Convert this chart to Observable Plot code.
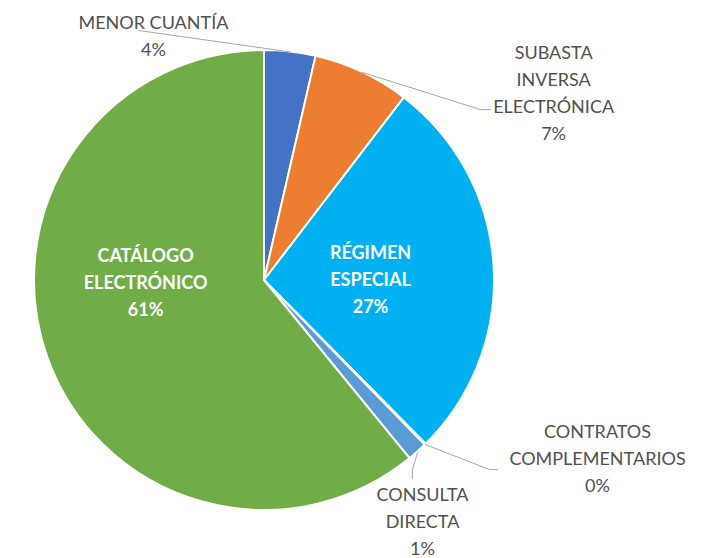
<!DOCTYPE html>
<html><head><meta charset="utf-8">
<script src="https://cdn.jsdelivr.net/npm/d3@7"></script>
<script src="https://cdn.jsdelivr.net/npm/@observablehq/plot@0.6"></script>
<style>body{margin:0;background:#fff}</style>
</head><body><div id="chart"></div>
<script>
// ---- data ----
const categories = ["MENOR CUANTÍA", "SUBASTA INVERSA ELECTRÓNICA", "RÉGIMEN ESPECIAL", "CONTRATOS COMPLEMENTARIOS", "CONSULTA DIRECTA", "CATÁLOGO ELECTRÓNICO"];
const shares = [3.6, 6.8, 27.2, 0.1, 1.4, 60.9];
const labelLines = [["MENOR CUANTÍA"], ["SUBASTA", "INVERSA", "ELECTRÓNICA"], ["RÉGIMEN", "ESPECIAL"], ["CONTRATOS", "COMPLEMENTARIOS"], ["CONSULTA", "DIRECTA"], ["CATÁLOGO", "ELECTRÓNICO"]];
const colors = ["#4472C4", "#ED7D31", "#00B0F0", "#FFC000", "#5B9BD5", "#70AD47"];
const inside = [false, false, true, false, false, true];

// ---- label layout (unit-circle coordinates, pie radius = 1) ----
const labelPos = [[-0.483, 1.072], [1.257, 0.826], [0.461, 0.013], [1.448, -0.765], [0.687, -1.040], [-0.517, 0.0]];
const leaderBends = [[[-0.548, 1.087]], [[0.939, 0.743], [0.983, 0.743]], null, [[0.978, -0.822], [1.013, -0.822]], [[0.643, -0.826], [0.643, -0.862]], null];

const total = d3.sum(shares);
const pie = d3.pie().sort(null).value(d => d)(shares);
const rows = categories.map((c, i) => ({
  cat: c, share: shares[i],
  start: pie[i].startAngle, end: pie[i].endAngle,
  mid: (pie[i].startAngle + pie[i].endAngle) / 2
}));

class PieMark extends Plot.Mark {
  constructor(data, options = {}) {
    super(data, {fill: {value: options.fill, scale: "color"}}, options, {});
    this.rows = data;
  }
  render(index, scales, values, dimensions) {
    const {x, y} = scales;
    const cx = x(0), cy = y(0), r = x(1) - x(0);
    const arc = d3.arc().innerRadius(0).outerRadius(r);
    const g = d3.create("svg:g").attr("transform", `translate(${cx},${cy})`);
    g.selectAll("path").data(index).join("path")
      .attr("d", i => arc({startAngle: this.rows[i].start, endAngle: this.rows[i].end}))
      .attr("fill", i => values.fill[i])
      .attr("stroke", "#fff").attr("stroke-width", 2).attr("stroke-linejoin", "round");
    return g.node();
  }
}

const labels = rows.map((d, i) => ({
  x: labelPos[i][0], y: labelPos[i][1],
  text: labelLines[i].concat([Math.round(d.share / total * 100) + "%"]).join("\n"),
  inside: inside[i]
}));

const leaders = [];
rows.forEach((d, i) => {
  if (!leaderBends[i]) return;
  leaders.push({k: i, x: Math.sin(d.mid), y: Math.cos(d.mid)});
  leaderBends[i].forEach(p => leaders.push({k: i, x: p[0], y: p[1]}));
});

const W = 722, H = 558;
const chart = Plot.plot({
  width: W, height: H, margin: 0,
  x: {domain: [-264 / 230, (W - 264) / 230], axis: null},
  y: {domain: [-(H - 280) / 230, 280 / 230], axis: null},
  color: {domain: categories, range: colors},
  style: {fontFamily: "Lato, sans-serif", background: "#fff"},
  marks: [
    new PieMark(rows, {fill: categories}),
    Plot.line(leaders, {x: "x", y: "y", z: "k", stroke: "#A6A6A6", strokeWidth: 1}),
    Plot.text(labels.filter(d => !d.inside), {x: "x", y: "y", text: "text", fill: "#505050", fontSize: 18, lineHeight: 1.5, textAnchor: "middle", lineAnchor: "middle"}),
    Plot.text(labels.filter(d => d.inside), {x: "x", y: "y", text: "text", fill: "#fff", fontSize: 18, fontWeight: "bold", lineHeight: 1.5, textAnchor: "middle", lineAnchor: "middle"})
  ]
});
document.getElementById("chart").appendChild(chart);
</script>
</body></html>
